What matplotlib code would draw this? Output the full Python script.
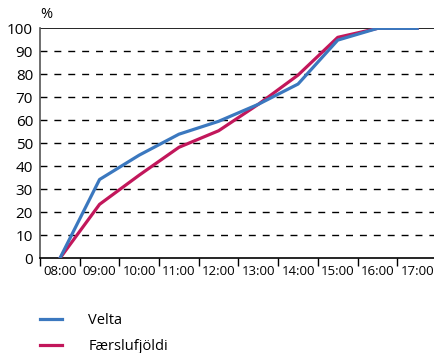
import matplotlib.pyplot as plt
import numpy as np

hours = ['08:00', '09:00', '10:00', '11:00', '12:00', '13:00', '14:00', '15:00', '16:00', '17:00']
velta = [0, 34.3, 44.9, 54, 59.6, 67, 75.8, 94.9, 100, 100]
faerslur = [0, 23.5, 36.2, 48.3, 55.5, 67, 79.7, 96.1, 100, 100]

blue = '#3b78bf'
red = '#c2175b'

plt.rcParams['font.family'] = ['Open Sans', 'DejaVu Sans']

fig = plt.figure(figsize=(4.35, 3.53), dpi=100)
ax = fig.add_axes([40/435, 0.268, 397/435, 0.6516])

x = np.arange(len(hours))
for y in range(10, 100, 10):
    ax.axhline(y, color='black', lw=1, ls=(0, (5, 5)), zorder=1)
ax.axhline(100, color='black', lw=1.2, zorder=1)

l2, = ax.plot(x, faerslur, color=red, lw=2.3, zorder=3, label='Færslufjöldi')
l1, = ax.plot(x, velta, color=blue, lw=2.3, zorder=4, label='Velta')

ax.set_xlim(-0.5, len(hours) - 0.5)
ax.set_ylim(0, 100)
ax.set_yticks(range(0, 101, 10))
ax.tick_params(axis='y', length=0, labelsize=11, pad=5)
ax.set_xticks(x)
ax.set_xticklabels(hours)
ax.set_xticks(np.arange(-0.5, len(hours), 1), minor=True)
ax.tick_params(axis='x', which='major', length=0, labelsize=9.5, pad=5)
ax.tick_params(axis='x', which='minor', length=6, width=1, color='black')

for s in ['top', 'right']:
    ax.spines[s].set_visible(False)
ax.spines['left'].set_color('#555555')
ax.spines['left'].set_linewidth(1.2)
ax.spines['bottom'].set_linewidth(1.2)

fig.text(46/435, 1 - 14/353, '%', fontsize=10.5, ha='center', va='center')

fig.legend(handles=[l1, l2], loc='upper left', bbox_to_anchor=(40/435, 1 - 313/353),
           frameon=False, fontsize=10.5, handlelength=1.5, handletextpad=1.8,
           labelspacing=0.75, borderpad=0, borderaxespad=0)

fig.savefig('out.png', dpi=100)
